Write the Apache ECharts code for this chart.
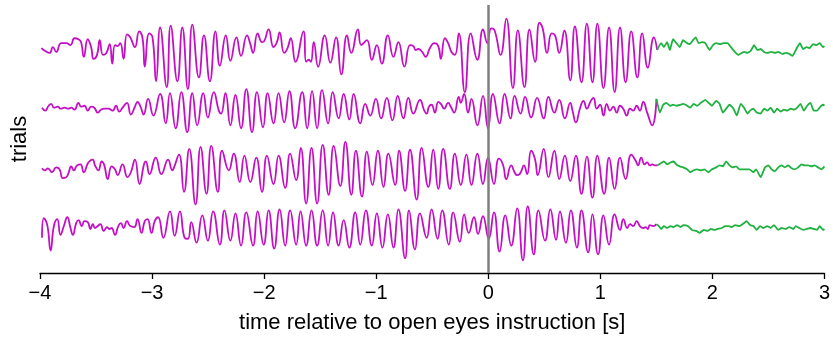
<!DOCTYPE html>
<html><head><meta charset="utf-8">
<script src="https://cdn.jsdelivr.net/npm/echarts@6/dist/echarts.min.js"></script>
<style>html,body{margin:0;padding:0;background:#fff}#c{width:833px;height:339px}</style>
</head><body><div id="c"></div>
<script>
// time [s], amplitude (arbitrary units)
const trial1Open = [[-3.988,-3],[-3.953,-6],[-3.914,-8],[-3.885,-2],[-3.855,-7],[-3.811,2],[-3.766,2],[-3.728,0],[-3.692,7],[-3.657,6],[-3.633,3],[-3.609,-12],[-3.574,6],[-3.544,-2],[-3.521,-14],[-3.491,-10],[-3.467,5],[-3.438,-10],[-3.408,-8],[-3.378,1],[-3.355,-19],[-3.331,0],[-3.307,-1],[-3.284,2],[-3.254,-14],[-3.224,11],[-3.195,8],[-3.153,-2],[-3.115,14],[-3.085,7],[-3.065,-22],[-3.026,12],[-2.996,8],[-2.964,-37],[-2.928,18],[-2.869,-43],[-2.834,20],[-2.774,-37],[-2.730,18],[-2.680,-45],[-2.641,21],[-2.582,-33],[-2.537,10],[-2.484,-37],[-2.434,14],[-2.395,-21],[-2.342,10],[-2.301,-16],[-2.247,8],[-2.206,-11],[-2.153,10],[-2.123,1],[-2.099,-8],[-2.058,12],[-2.019,3],[-1.999,4],[-1.960,16],[-1.916,-2],[-1.886,3],[-1.862,13],[-1.821,-8],[-1.791,-3],[-1.762,7],[-1.720,-17],[-1.649,14],[-1.625,-17],[-1.601,-15],[-1.583,-17],[-1.557,3],[-1.518,-22],[-1.459,10],[-1.409,-18],[-1.358,8],[-1.311,-30],[-1.261,10],[-1.222,-8],[-1.163,16],[-1.133,0],[-1.083,5],[-1.039,-15],[-0.994,0],[-0.950,-19],[-0.896,10],[-0.846,-12],[-0.802,3],[-0.748,-22],[-0.698,0],[-0.668,-1],[-0.648,-5],[-0.624,-4],[-0.589,-7],[-0.559,-12],[-0.520,-3],[-0.482,2],[-0.446,-1],[-0.423,-14],[-0.387,7],[-0.358,2],[-0.328,-7],[-0.298,-10],[-0.263,12],[-0.209,-48],[-0.156,12],[-0.097,-15],[-0.047,16],[-0.008,2],[0.027,17],[0.057,15],[0.110,-10],[0.161,27],[0.220,-44],[0.264,15],[0.323,-43],[0.368,16],[0.418,-17],[0.457,23],[0.486,17],[0.525,-8],[0.566,12],[0.596,10],[0.634,-8],[0.679,15],[0.732,-36],[0.773,19],[0.832,-38],[0.880,22],[0.930,-38],[0.974,22],[1.028,-44],[1.078,18],[1.128,-48],[1.176,18],[1.226,-38],[1.276,14],[1.330,-33],[1.374,12],[1.424,-23],[1.478,8],[1.507,-5]];
const trial1Closed = [[1.507,-5],[1.543,2],[1.567,-2],[1.596,3],[1.620,-5],[1.649,6],[1.679,2],[1.709,-2],[1.738,5],[1.774,2],[1.797,1],[1.827,5],[1.851,8],[1.877,2],[1.907,3],[1.937,2],[1.975,-5],[2.005,0],[2.034,2],[2.070,1],[2.100,2],[2.135,2],[2.165,-2],[2.194,-6],[2.233,-10],[2.262,-8],[2.283,-7],[2.313,-8],[2.342,-6],[2.372,0],[2.402,-5],[2.431,-4],[2.461,-7],[2.490,-8],[2.529,-7],[2.558,-8],[2.588,-7],[2.627,-9],[2.656,-8],[2.686,-9],[2.715,-11],[2.745,-5],[2.781,2],[2.810,-4],[2.840,-2],[2.869,-3],[2.899,1],[2.929,0],[2.958,2],[2.988,-2],[3.0,-1]];
const trial2Open = [[-3.982,-2],[-3.953,-5],[-3.923,0],[-3.900,2],[-3.876,-2],[-3.840,-1],[-3.817,-3],[-3.781,-2],[-3.746,-3],[-3.722,-2],[-3.692,-4],[-3.657,3],[-3.633,-1],[-3.603,0],[-3.574,-5],[-3.544,-1],[-3.515,-2],[-3.485,-7],[-3.455,-4],[-3.426,-3],[-3.390,-3],[-3.352,-5],[-3.322,0],[-3.293,-6],[-3.263,-2],[-3.224,3],[-3.189,-9],[-3.153,-1],[-3.130,4],[-3.100,-2],[-3.076,-9],[-3.035,7],[-2.988,-10],[-2.928,12],[-2.878,-18],[-2.840,13],[-2.789,-23],[-2.739,14],[-2.686,-27],[-2.641,13],[-2.597,-20],[-2.543,13],[-2.502,-12],[-2.449,14],[-2.404,-5],[-2.384,-8],[-2.345,13],[-2.301,-20],[-2.256,11],[-2.206,-23],[-2.159,17],[-2.108,-27],[-2.064,14],[-2.010,-22],[-1.969,13],[-1.916,-18],[-1.871,13],[-1.821,-17],[-1.774,15],[-1.723,-23],[-1.660,14],[-1.616,-23],[-1.572,15],[-1.527,-23],[-1.483,16],[-1.429,-18],[-1.388,14],[-1.335,-13],[-1.290,12],[-1.240,-14],[-1.201,12],[-1.142,-18],[-1.098,2],[-1.053,-10],[-1.003,7],[-0.956,-13],[-0.905,8],[-0.855,-15],[-0.808,10],[-0.757,-13],[-0.713,8],[-0.668,-8],[-0.609,6],[-0.571,-5],[-0.550,-8],[-0.529,-1],[-0.506,1],[-0.476,-7],[-0.446,4],[-0.423,2],[-0.393,-3],[-0.358,3],[-0.334,-1],[-0.304,-7],[-0.263,9],[-0.245,3],[-0.215,12],[-0.180,-7],[-0.150,7],[-0.097,-20],[-0.047,10],[-0.002,-23],[0.042,12],[0.101,-18],[0.146,12],[0.199,-13],[0.235,10],[0.288,-8],[0.329,9],[0.383,-12],[0.436,8],[0.495,-13],[0.537,9],[0.590,-7],[0.634,6],[0.684,-13],[0.732,3],[0.752,-5],[0.782,-17],[0.820,-2],[0.850,5],[0.880,-3],[0.915,5],[0.939,8],[0.968,-3],[0.998,1],[1.028,-10],[1.057,2],[1.087,-5],[1.116,-1],[1.146,-7],[1.176,0],[1.205,-3],[1.235,-10],[1.265,-3],[1.294,-5],[1.324,0],[1.353,-5],[1.383,4],[1.418,-7],[1.463,-20],[1.501,7]];
const trial2Closed = [[1.501,7],[1.531,-7],[1.561,1],[1.590,3],[1.620,0],[1.649,1],[1.679,0],[1.715,1],[1.744,2],[1.774,0],[1.803,-2],[1.833,2],[1.863,0],[1.898,3],[1.937,6],[1.966,3],[1.996,0],[2.034,5],[2.064,2],[2.094,-7],[2.123,-3],[2.153,1],[2.188,-3],[2.218,-10],[2.253,2],[2.283,-2],[2.313,-8],[2.336,-5],[2.366,-3],[2.396,-7],[2.431,-8],[2.461,-3],[2.490,-5],[2.520,-2],[2.550,-7],[2.579,-3],[2.609,-6],[2.638,-4],[2.668,-5],[2.698,-3],[2.727,-4],[2.757,-2],[2.786,2],[2.816,-5],[2.846,0],[2.875,3],[2.905,-5],[2.934,-5],[2.964,-1],[2.988,1],[3.0,0]];
const trial3Open = [[-3.982,-1],[-3.959,-3],[-3.929,-1],[-3.894,-5],[-3.855,0],[-3.826,-2],[-3.796,-11],[-3.766,-10],[-3.746,-6],[-3.722,1],[-3.698,-3],[-3.669,2],[-3.639,3],[-3.609,-5],[-3.574,4],[-3.550,7],[-3.529,8],[-3.509,2],[-3.479,-3],[-3.449,6],[-3.426,2],[-3.396,-12],[-3.361,1],[-3.331,-2],[-3.307,-8],[-3.263,3],[-3.219,-10],[-3.189,-5],[-3.153,8],[-3.112,-17],[-3.070,4],[-3.056,6],[-3.023,-7],[-2.967,10],[-2.917,-7],[-2.857,8],[-2.819,-3],[-2.804,0],[-2.760,13],[-2.715,-25],[-2.668,19],[-2.612,-38],[-2.567,21],[-2.514,-27],[-2.472,22],[-2.413,-25],[-2.375,17],[-2.315,-3],[-2.271,14],[-2.218,-15],[-2.176,12],[-2.123,-15],[-2.070,10],[-2.019,-25],[-1.975,12],[-1.916,-17],[-1.871,12],[-1.812,-21],[-1.768,14],[-1.714,-13],[-1.673,20],[-1.625,-37],[-1.577,20],[-1.527,-37],[-1.477,23],[-1.424,-28],[-1.379,22],[-1.320,-19],[-1.275,26],[-1.222,-28],[-1.181,17],[-1.127,-30],[-1.083,16],[-1.033,-18],[-0.985,17],[-0.935,-20],[-0.891,14],[-0.831,-18],[-0.796,17],[-0.742,-24],[-0.698,18],[-0.639,-33],[-0.594,20],[-0.535,-20],[-0.491,18],[-0.446,-22],[-0.402,19],[-0.343,-22],[-0.298,14],[-0.245,-18],[-0.195,13],[-0.150,-18],[-0.097,14],[-0.047,-17],[-0.002,10],[0.051,-17],[0.095,9],[0.131,3],[0.161,-12],[0.205,2],[0.235,-5],[0.258,-8],[0.279,-7],[0.294,-4],[0.318,2],[0.347,-7],[0.383,17],[0.418,8],[0.442,-8],[0.495,19],[0.537,-10],[0.590,17],[0.634,-12],[0.684,12],[0.732,-14],[0.782,12],[0.832,-27],[0.880,11],[0.930,-31],[0.974,12],[1.034,-27],[1.078,10],[1.128,-22],[1.176,10],[1.226,-12],[1.276,13],[1.315,7],[1.336,2],[1.365,10],[1.395,3],[1.418,5],[1.442,2],[1.463,3],[1.492,2],[1.507,2]];
const trial3Closed = [[1.507,2],[1.537,4],[1.567,6],[1.596,3],[1.626,5],[1.655,6],[1.679,3],[1.709,1],[1.738,0],[1.774,-2],[1.803,-5],[1.833,-3],[1.863,-2],[1.898,-3],[1.928,-2],[1.966,-5],[1.996,-2],[2.034,0],[2.064,2],[2.094,1],[2.123,6],[2.153,2],[2.182,0],[2.212,1],[2.242,-2],[2.271,-2],[2.301,-2],[2.330,-2],[2.366,-5],[2.390,-2],[2.431,-10],[2.470,0],[2.499,2],[2.529,-2],[2.558,-4],[2.588,0],[2.618,2],[2.647,0],[2.677,2],[2.707,-1],[2.736,-2],[2.766,0],[2.795,3],[2.825,2],[2.855,2],[2.884,1],[2.914,2],[2.943,0],[2.973,-2],[3.0,1]];
const trial4Open = [[-3.982,-10],[-3.965,10],[-3.935,3],[-3.905,-23],[-3.876,2],[-3.846,9],[-3.817,-7],[-3.787,2],[-3.757,11],[-3.728,0],[-3.707,-7],[-3.677,5],[-3.657,8],[-3.627,2],[-3.603,7],[-3.574,6],[-3.550,-1],[-3.529,4],[-3.509,0],[-3.485,2],[-3.461,4],[-3.432,-3],[-3.402,1],[-3.381,-1],[-3.361,0],[-3.331,-7],[-3.301,2],[-3.278,5],[-3.254,0],[-3.224,7],[-3.195,2],[-3.159,1],[-3.130,9],[-3.094,-5],[-3.065,7],[-3.041,9],[-3.005,-5],[-2.976,7],[-2.946,11],[-2.899,-10],[-2.840,17],[-2.798,-8],[-2.751,17],[-2.709,-10],[-2.680,-11],[-2.650,6],[-2.603,-15],[-2.552,13],[-2.502,-13],[-2.455,17],[-2.395,-17],[-2.354,18],[-2.301,-13],[-2.256,15],[-2.206,-18],[-2.159,16],[-2.099,-18],[-2.058,17],[-2.004,-17],[-1.960,18],[-1.910,-21],[-1.862,19],[-1.812,-18],[-1.768,18],[-1.714,-17],[-1.675,17],[-1.625,-18],[-1.577,18],[-1.527,-18],[-1.477,18],[-1.429,-18],[-1.385,16],[-1.335,-18],[-1.290,8],[-1.240,-20],[-1.187,16],[-1.142,-17],[-1.092,18],[-1.039,-18],[-0.994,15],[-0.944,-20],[-0.896,14],[-0.846,-20],[-0.802,19],[-0.742,-31],[-0.707,18],[-0.654,-22],[-0.609,15],[-0.550,-10],[-0.506,19],[-0.452,-11],[-0.411,18],[-0.352,-17],[-0.313,16],[-0.254,-14],[-0.215,14],[-0.174,-5],[-0.127,11],[-0.091,-6],[-0.047,12],[0.004,-11],[0.051,16],[0.101,-24],[0.152,13],[0.205,-18],[0.258,20],[0.309,-33],[0.353,22],[0.406,-27],[0.448,18],[0.507,-13],[0.554,19],[0.605,-12],[0.640,17],[0.693,-15],[0.737,18],[0.791,-20],[0.832,18],[0.891,-25],[0.930,14],[0.980,-27],[1.028,13],[1.078,-17],[1.128,14],[1.176,-2],[1.205,9],[1.241,0],[1.265,4],[1.294,2],[1.324,7],[1.353,2],[1.383,0],[1.404,1],[1.424,-1],[1.442,3],[1.472,2],[1.501,4]];
const trial4Closed = [[1.501,4],[1.522,2],[1.543,-1],[1.567,2],[1.596,0],[1.626,2],[1.655,1],[1.685,3],[1.715,1],[1.744,3],[1.780,2],[1.818,-2],[1.857,-3],[1.886,-5],[1.922,-2],[1.957,-3],[1.987,-1],[2.017,-2],[2.046,-1],[2.085,0],[2.114,2],[2.144,2],[2.174,1],[2.203,3],[2.242,2],[2.271,4],[2.307,7],[2.336,3],[2.366,2],[2.396,-2],[2.425,2],[2.455,0],[2.490,2],[2.520,0],[2.550,3],[2.588,-2],[2.618,0],[2.656,-1],[2.686,1],[2.721,-1],[2.745,2],[2.775,0],[2.810,-2],[2.840,-1],[2.875,0],[2.905,-1],[2.934,-2],[2.958,2],[2.988,-2],[3.0,-1]];
const trialOffsets = [233, 171, 108, 46];
const xTicks = [-4, -3, -2, -1, 0, 1, 2, 3];
const eventTime = 0;

const openColor = '#c410c4';
const closedColor = '#1fb240';
const openSets = [trial1Open, trial2Open, trial3Open, trial4Open];
const closedSets = [trial1Closed, trial2Closed, trial3Closed, trial4Closed];
const shift = (arr, off) => arr.map(p => [p[0], p[1] + off]);
const series = [];
openSets.forEach((d, i) => {
  series.push({type:'line', data: shift(d, trialOffsets[i]), showSymbol:false, smooth:0.5,
    lineStyle:{color:openColor, width:1.8}, itemStyle:{color:openColor}, z:3});
});
closedSets.forEach((d, i) => {
  series.push({type:'line', data: shift(d, trialOffsets[i]), showSymbol:false, smooth:0.15,
    lineStyle:{color:closedColor, width:1.8}, itemStyle:{color:closedColor}, z:3});
});
series.push({type:'line', data:[], markLine:{silent:true, symbol:['none','none'], label:{show:false},
  lineStyle:{color:'#7f7f7f', width:2.5, type:'solid'}, data:[{xAxis:eventTime}]}, z:2});

const chart = echarts.init(document.getElementById('c'), null, {renderer:'canvas'});
chart.setOption({
  animation:false,
  grid:{left:40, right:5, top:5, bottom:60, containLabel:false},
  xAxis:{type:'value', min:xTicks[0], max:xTicks[xTicks.length-1], interval:1,
    name:'time relative to open eyes instruction [s]', nameLocation:'middle', nameGap:39,
    nameTextStyle:{fontFamily:'Liberation Sans', fontSize:22, color:'#000'},
    axisLine:{lineStyle:{color:'#000', width:1.3}},
    axisTick:{length:6, lineStyle:{color:'#000', width:1.3}},
    axisLabel:{fontFamily:'Liberation Sans', fontSize:20, color:'#000', margin:10,
      formatter:v => String(v).replace('-', '\u2212')},
    splitLine:{show:false}},
  yAxis:{type:'value', min:0, max:274, name:'trials', nameLocation:'middle', nameGap:9, nameRotate:90,
    nameTextStyle:{fontFamily:'Liberation Sans', fontSize:22, color:'#000'},
    axisLine:{show:false}, axisTick:{show:false}, axisLabel:{show:false}, splitLine:{show:false}},
  series: series
});
</script></body></html>
